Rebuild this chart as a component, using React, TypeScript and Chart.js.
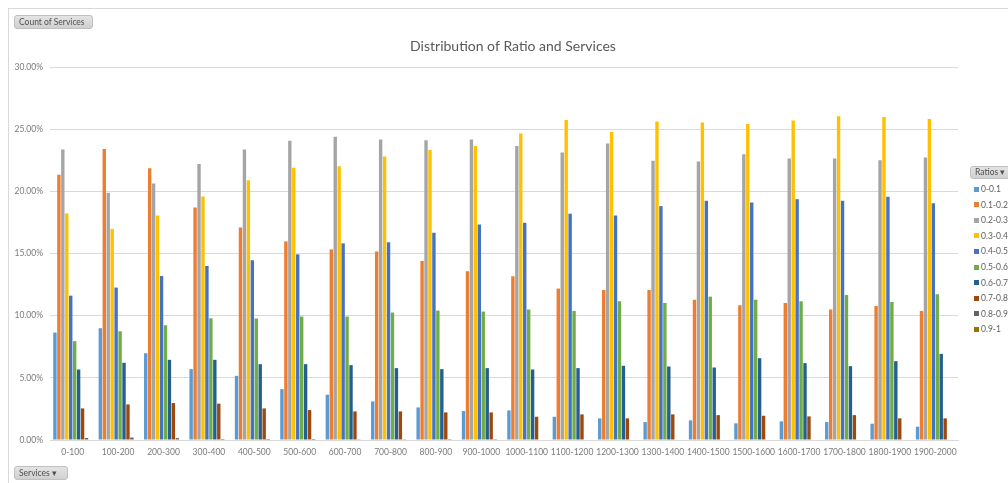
import React, { useEffect, useRef } from "react";
import { Chart, registerables } from "chart.js";

Chart.register(...registerables);

const categories = [
  "0-100", "100-200", "200-300", "300-400", "400-500", "500-600", "600-700", "700-800", "800-900", "900-1000",
  "1000-1100", "1100-1200", "1200-1300", "1300-1400", "1400-1500", "1500-1600", "1600-1700", "1700-1800", "1800-1900", "1900-2000",
];

const seriesNames = ["0-0.1", "0.1-0.2", "0.2-0.3", "0.3-0.4", "0.4-0.5", "0.5-0.6", "0.6-0.7", "0.7-0.8", "0.8-0.9", "0.9-1"];
const seriesColors = ["#5B9BD5", "#ED7D31", "#A5A5A5", "#FFC000", "#4472C4", "#70AD47", "#255E91", "#9E480E", "#636363", "#997300"];

const r00_01 = [8.64, 8.99, 6.98, 5.70, 5.16, 4.09, 3.64, 3.10, 2.62, 2.33, 2.38, 1.87, 1.74, 1.44, 1.58, 1.34, 1.50, 1.44, 1.31, 1.07];
const r01_02 = [21.33, 23.41, 21.86, 18.70, 17.10, 15.98, 15.33, 15.17, 14.40, 13.57, 13.17, 12.18, 12.07, 12.07, 11.29, 10.84, 11.02, 10.49, 10.78, 10.38];
const r02_03 = [23.36, 19.88, 20.63, 22.20, 23.36, 24.06, 24.40, 24.16, 24.11, 24.16, 23.65, 23.12, 23.84, 22.45, 22.40, 22.99, 22.64, 22.64, 22.50, 22.72];
const r03_04 = [18.22, 16.97, 18.06, 19.59, 20.90, 21.89, 22.02, 22.80, 23.33, 23.65, 24.65, 25.74, 24.78, 25.61, 25.53, 25.42, 25.69, 26.04, 25.98, 25.82];
const r04_05 = [11.61, 12.26, 13.19, 14.00, 14.45, 14.93, 15.82, 15.90, 16.67, 17.34, 17.47, 18.20, 18.06, 18.81, 19.24, 19.10, 19.37, 19.24, 19.56, 19.05];
const r05_06 = [7.95, 8.75, 9.23, 9.79, 9.77, 9.93, 9.93, 10.25, 10.41, 10.33, 10.49, 10.38, 11.16, 11.02, 11.53, 11.29, 11.16, 11.67, 11.10, 11.72];
const r06_07 = [5.67, 6.21, 6.45, 6.45, 6.10, 6.10, 6.02, 5.78, 5.70, 5.78, 5.67, 5.78, 5.97, 5.91, 5.83, 6.58, 6.18, 5.94, 6.34, 6.93];
const r07_08 = [2.54, 2.86, 2.97, 2.92, 2.54, 2.41, 2.30, 2.30, 2.22, 2.22, 1.87, 2.06, 1.74, 2.06, 2.00, 1.95, 1.90, 2.00, 1.74, 1.74];
const r08_09 = [0.16, 0.20, 0.15, 0.08, 0.08, 0.08, 0.02, 0.02, 0.01, 0.01, 0, 0, 0, 0, 0, 0, 0, 0, 0, 0];
const r09_10 = [0, 0, 0, 0, 0, 0, 0, 0, 0, 0, 0, 0, 0, 0, 0, 0, 0, 0, 0, 0];

const seriesValues = [r00_01, r01_02, r02_03, r03_04, r04_05, r05_06, r06_07, r07_08, r08_09, r09_10];

const yTicks = [0, 5, 10, 15, 20, 25, 30];

const chartTitle = "Distribution of Ratio and Services";
const FONT = "Lato, 'Open Sans', sans-serif";

const titlePlugin = {
  id: "customTitle",
  afterDraw(chart: any) {
    const ctx = chart.ctx;
    ctx.save();
    ctx.font = `14px ${FONT}`;
    ctx.fillStyle = "#595959";
    ctx.textAlign = "center";
    ctx.textBaseline = "middle";
    ctx.fillText(chartTitle, 505, 38);
    ctx.restore();
  },
};

const buttonStyle: React.CSSProperties = {
  position: "absolute",
  boxSizing: "border-box",
  background: "linear-gradient(#e4e4e4, #d0d0d0)",
  border: "1px solid #c0c0c0",
  borderRadius: 3,
  fontFamily: FONT,
  fontSize: 8.5,
  color: "#505050",
  lineHeight: "12px",
  paddingLeft: 4,
  whiteSpace: "nowrap",
  overflow: "hidden",
};

export default function App() {
  const canvasRef = useRef<HTMLCanvasElement | null>(null);

  useEffect(() => {
    if (!canvasRef.current) return;
    const chart = new Chart(canvasRef.current, {
      type: "bar",
      data: {
        labels: categories,
        datasets: seriesNames.map((name, i) => ({
          label: name,
          data: seriesValues[i],
          backgroundColor: seriesColors[i],
          borderWidth: 0,
          categoryPercentage: 10 / 11.5,
          barPercentage: 0.86,
        })),
      },
      options: {
        responsive: false,
        animation: false,
        layout: { padding: { top: 59, left: 0, right: 50, bottom: 0 } },
        plugins: {
          legend: { display: false },
          title: { display: false },
          tooltip: { enabled: false },
        },
        scales: {
          x: {
            grid: { display: false, drawTicks: false },
            border: { display: true, color: "#d9d9d9" },
            ticks: {
              padding: 7,
              color: "#7a7a7a",
              font: { family: FONT, size: 8.5 },
              maxRotation: 0,
              autoSkip: false,
            },
            afterFit(scale: any) {
              scale.height = 43;
            },
          },
          y: {
            min: 0,
            max: 30,
            afterBuildTicks(scale: any) {
              scale.ticks = yTicks.map((v) => ({ value: v }));
            },
            grid: { color: "#d9d9d9", drawTicks: false, lineWidth: 1 },
            border: { display: false },
            ticks: {
              padding: 7,
              color: "#7a7a7a",
              font: { family: FONT, size: 8.5 },
              callback: (v: any) => Number(v).toFixed(2) + "%",
            },
            afterFit(scale: any) {
              scale.width = 42;
            },
          },
        },
      },
      plugins: [titlePlugin],
    });
    return () => chart.destroy();
  }, []);

  return (
    <div style={{ position: "fixed", left: 0, top: 0, width: 1008, height: 483, overflow: "hidden", background: "#fff" }}>
      <div style={{ position: "absolute", left: 8, top: 8, width: 1010, height: 480, borderTop: "1px solid #d9d9d9", borderLeft: "1px solid #d9d9d9" }} />
      <canvas ref={canvasRef} width={1000} height={475} style={{ position: "absolute", left: 8, top: 8, width: 1000, height: 475 }} />
      <div style={{ ...buttonStyle, left: 14, top: 15, width: 79, height: 14 }}>Count of Services</div>
      <div style={{ ...buttonStyle, left: 14, top: 466, width: 54, height: 14 }}>Services ▾</div>
      <div style={{ ...buttonStyle, left: 970, top: 166, width: 46, height: 13, lineHeight: "11px" }}>Ratios ▾</div>
      {seriesNames.map((name, i) => (
        <div key={name} style={{ position: "absolute", left: 974, top: 189 + i * 15.6 - 6, height: 12, display: "flex", alignItems: "center", fontFamily: FONT, fontSize: 8.5, color: "#606060", whiteSpace: "nowrap" }}>
          <span style={{ display: "inline-block", width: 5, height: 5, background: seriesColors[i], marginRight: 2 }} />
          {name}
        </div>
      ))}
    </div>
  );
}
